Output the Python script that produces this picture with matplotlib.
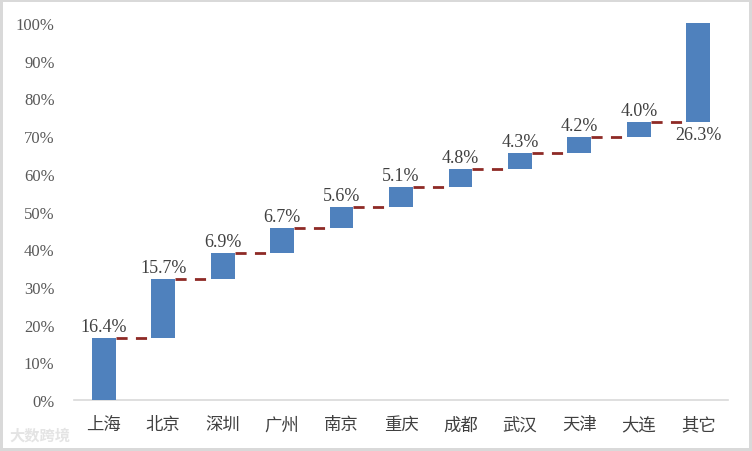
import matplotlib
import matplotlib.pyplot as plt
import numpy as np

matplotlib.use("Agg")

cities = ["上海", "北京", "深圳", "广州", "南京", "重庆", "成都", "武汉", "天津", "大连", "其它"]
shares = [16.4, 15.7, 6.9, 6.7, 5.6, 5.1, 4.8, 4.3, 4.2, 4.0, 26.3]
y_ticks = [0, 10, 20, 30, 40, 50, 60, 70, 80, 90, 100]

BAR_COLOR = "#4F81BD"
LINE_COLOR = "#8E2A26"
SERIF = ["Liberation Serif", "DejaVu Serif"]
CJK = ["Noto Sans CJK SC", "DejaVu Sans"]

tops = np.cumsum(shares)
bottoms = tops - np.array(shares)
x = np.arange(len(cities))
width = 0.4

fig = plt.figure(figsize=(7.52, 4.52), dpi=100)
fig.patch.set_edgecolor("#d9d9d9")
fig.patch.set_linewidth(3)
ax = fig.add_axes([0.0984, 0.1128, 0.8697, 0.834])

ax.bar(x, shares, width=width, bottom=bottoms, color=BAR_COLOR, zorder=3)

# dashed connectors between consecutive bars
for i in range(len(x) - 1):
    ax.plot([x[i] + width / 2, x[i + 1] - width / 2], [tops[i], tops[i]],
            color=LINE_COLOR, linestyle=(0, (4, 3)), linewidth=2, zorder=2)

for i, v in enumerate(shares):
    if i == len(shares) - 1:
        ax.text(x[i], bottoms[i] - 1.0, f"{v:.1f}%", ha="center", va="top",
                fontsize=13, family=SERIF, color="#404040")
    else:
        ax.text(x[i], tops[i] + 0.8, f"{v:.1f}%", ha="center", va="bottom",
                fontsize=13, family=SERIF, color="#404040")

ax.set_xlim(-0.5, len(x) - 0.5)
ax.set_ylim(0, 100)
ax.set_yticks(y_ticks)
ax.set_yticklabels([f"{t}%" for t in y_ticks], family=SERIF, fontsize=12, color="#595959")
ax.set_xticks(x)
ax.set_xticklabels(cities, family=CJK, fontsize=12.5, color="#404040")
ax.tick_params(axis="both", length=0)
ax.tick_params(axis="y", pad=14)
ax.tick_params(axis="x", pad=11)

for side in ["top", "right", "left"]:
    ax.spines[side].set_visible(False)
ax.spines["bottom"].set_color("#d9d9d9")
ax.spines["bottom"].set_linewidth(1.2)

fig.text(0.012, 0.025, "大数跨境", family=CJK, fontsize=11, color="#e4e4e4",
         fontweight="bold")

fig.savefig("out.png", dpi=100)
